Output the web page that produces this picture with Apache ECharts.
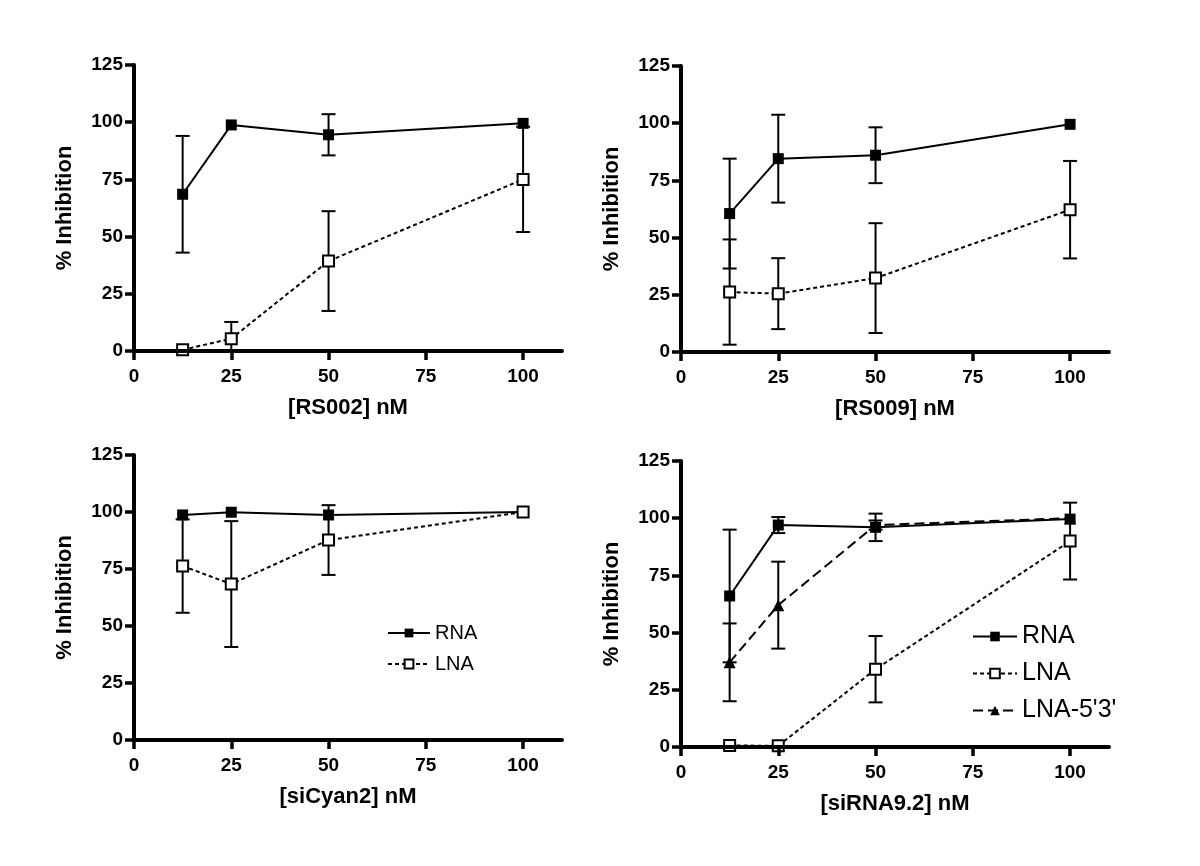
<!DOCTYPE html>
<html><head><meta charset="utf-8">
<script src="https://cdn.jsdelivr.net/npm/echarts@6/dist/echarts.min.js"></script>
<style>html,body{margin:0;padding:0;background:#fff}#c{width:1200px;height:866px}</style>
</head><body><div id="c"></div>
<script>
// ---- data ----
const doses = [12.5, 25, 50, 100];
const xTicks = [0, 25, 50, 75, 100];
const xTitles = ['[RS002] nM', '[RS009] nM', '[siCyan2] nM', '[siRNA9.2] nM'];
const yTitle = '% Inhibition';

// Panel 1: RS002
const rs002RNA = [68.5, 98.8, 94.5, 99.5];
const rs002RNAErr = [25.5, 0, 9, 0];
const rs002LNA = [0.5, 5.4, 39.3, 75];
const rs002LNAErr = [0, 7.3, 21.8, 23];

// Panel 2: RS009
const rs009RNA = [60.5, 84.5, 86, 99.5];
const rs009RNAErr = [24, 19.2, 12.2, 0];
const rs009LNA = [26.2, 25.5, 32.3, 62.2];
const rs009LNAErr = [23, 15.5, 24, 21.3];

// Panel 3: siCyan2
const siCyanRNA = [98.7, 99.9, 98.7, 100];
const siCyanRNAErr = [0, 0, 0, 0];
const siCyanLNA = [76.3, 68.4, 87.7, 100];
const siCyanLNAErr = [20.5, 27.6, 15.3, 0];

// Panel 4: siRNA9.2
const si92RNA = [66, 97, 96, 99.6];
const si92RNAErr = [29, 3.5, 6, 0];
const si92LNA = [0.7, 0.5, 34, 90];
const si92LNAErr = [0, 0, 14.5, 16.8];
const si92LNA53 = [37, 62, 97, 100];
const si92LNA53Err = [17, 19, 2, 0];

// ---- layout ----
const FONT = '"Liberation Sans", Arial, sans-serif';
const grids = [
  {left: 134, top: 65, width: 428, height: 286},
  {left: 681, top: 66, width: 428, height: 286},
  {left: 134, top: 455, width: 428, height: 285},
  {left: 681, top: 461, width: 428, height: 286}
];

const styles = {
  RNA: {symbol: 'rect', symbolSize: 11, itemStyle: {color: '#000', borderColor: '#000', borderWidth: 0}, lineStyle: {color: '#000', width: 2, type: 'solid'}},
  LNA: {symbol: 'rect', symbolSize: 11, itemStyle: {color: '#fff', borderColor: '#000', borderWidth: 2}, lineStyle: {color: '#000', width: 2, type: [4, 3]}},
  "LNA-5'3'": {symbol: 'triangle', symbolSize: 12, itemStyle: {color: '#000', borderColor: '#000', borderWidth: 0}, lineStyle: {color: '#000', width: 2, type: [10, 5]}}
};

const series = [];
function addSeries(p, name, vals, errs) {
  const st = styles[name];
  const ebData = [];
  doses.forEach((d, i) => { if (errs[i] > 0) ebData.push([d, vals[i] - errs[i], vals[i] + errs[i]]); });
  series.push({
    type: 'custom', xAxisIndex: p, yAxisIndex: p, z: 1, silent: true, clip: true,
    data: ebData,
    renderItem(params, api) {
      const x = api.value(0), lo = api.value(1), hi = api.value(2);
      const a = api.coord([x, lo]), b = api.coord([x, hi]);
      const w = 7;
      const s = {stroke: '#000', lineWidth: 2};
      const children = [
        {type: 'line', shape: {x1: a[0], y1: a[1], x2: b[0], y2: b[1]}, style: s},
        {type: 'line', shape: {x1: b[0] - w, y1: b[1], x2: b[0] + w, y2: b[1]}, style: s}
      ];
      if (lo >= 0) children.push({type: 'line', shape: {x1: a[0] - w, y1: a[1], x2: a[0] + w, y2: a[1]}, style: s});
      return {type: 'group', children: children};
    }
  });
  series.push({
    type: 'line', name: name, xAxisIndex: p, yAxisIndex: p, z: 3,
    data: doses.map((d, i) => [d, vals[i]]),
    symbol: st.symbol, symbolSize: st.symbolSize, showAllSymbol: true,
    itemStyle: st.itemStyle, lineStyle: st.lineStyle,
    emphasis: {disabled: true}, animation: false
  });
}
addSeries(0, 'RNA', rs002RNA, rs002RNAErr);
addSeries(0, 'LNA', rs002LNA, rs002LNAErr);
addSeries(1, 'RNA', rs009RNA, rs009RNAErr);
addSeries(1, 'LNA', rs009LNA, rs009LNAErr);
addSeries(2, 'RNA', siCyanRNA, siCyanRNAErr);
addSeries(2, 'LNA', siCyanLNA, siCyanLNAErr);
addSeries(3, 'RNA', si92RNA, si92RNAErr);
addSeries(3, 'LNA', si92LNA, si92LNAErr);
addSeries(3, "LNA-5'3'", si92LNA53, si92LNA53Err);

const xAxes = grids.map((g, i) => ({
  type: 'value', gridIndex: i, min: 0, max: 110, interval: 25, z: 5,
  name: xTitles[i], nameLocation: 'middle', nameGap: 46,
  nameTextStyle: {fontFamily: FONT, fontWeight: 'bold', fontSize: 22, color: '#000'},
  axisLine: {show: true, onZero: false, lineStyle: {color: '#000', width: 4}},
  axisTick: {show: true, length: 9, customValues: xTicks, lineStyle: {color: '#000', width: 3.5}},
  axisLabel: {customValues: xTicks, margin: 16, fontFamily: FONT, fontWeight: 'bold', fontSize: 19, color: '#000'},
  splitLine: {show: false}
}));
const yAxes = grids.map((g, i) => ({
  type: 'value', gridIndex: i, min: 0, max: 125, interval: 25, z: 5,
  name: yTitle, nameLocation: 'middle', nameGap: 58,
  nameTextStyle: {fontFamily: FONT, fontWeight: 'bold', fontSize: 22, color: '#000'},
  axisLine: {show: true, onZero: false, lineStyle: {color: '#000', width: 4}},
  axisTick: {show: true, length: 9, lineStyle: {color: '#000', width: 3.5}},
  axisLabel: {margin: 11, fontFamily: FONT, fontWeight: 'bold', fontSize: 19, color: '#000'},
  splitLine: {show: false}
}));

const chart = echarts.init(document.getElementById('c'), null, {renderer: 'canvas'});
chart.setOption({
  backgroundColor: '#fff',
  animation: false,
  grid: grids.map(g => Object.assign({containLabel: false, outerBoundsMode: 'none'}, g)),
  xAxis: xAxes,
  yAxis: yAxes,
  legend: [
    {data: ['RNA', 'LNA'], orient: 'vertical', left: 382, top: 618, itemWidth: 42, itemHeight: 11, itemGap: 11,
     selectedMode: false, textStyle: {fontFamily: FONT, fontSize: 20, color: '#000'}},
    {data: ['RNA', 'LNA', "LNA-5'3'"], orient: 'vertical', left: 967, top: 619, itemWidth: 44, itemHeight: 12, itemGap: 12,
     selectedMode: false, textStyle: {fontFamily: FONT, fontSize: 25, color: '#000'}}
  ],
  series: series
});
</script></body></html>
